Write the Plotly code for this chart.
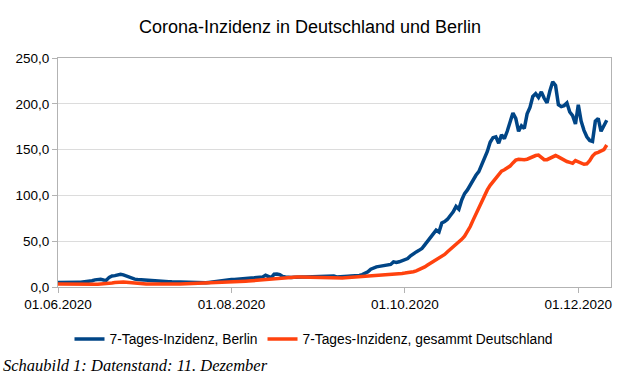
import plotly.graph_objects as go
import pandas as pd

dates = pd.date_range("2020-06-01", "2020-12-11", freq="D")

berlin_jun = [4.8, 5.0, 4.9, 5.0, 5.1, 5.0, 5.2, 5.3, 5.2, 5.4, 5.6, 5.9, 6.8, 7.8, 8.2, 8.4, 7.6, 7.4, 10.5, 12.0,
              12.4, 13.0, 13.9, 13.2, 12.0, 10.5, 9.2, 8.6, 8.3, 8.0]
berlin_jul = [7.7, 7.3, 7.0, 6.7, 7.2, 7.0, 6.6, 6.2, 6.0, 5.8, 5.6, 5.5, 5.2, 5.0, 4.9, 4.7, 4.5, 4.4, 4.2, 4.1,
              4.0, 4.2, 4.6, 5.0, 5.5, 5.9, 6.3, 6.8, 7.3, 7.6, 8.0]
berlin_aug = [8.2, 8.3, 8.4, 8.8, 9.0, 9.3, 9.5, 9.8, 10.0, 10.3, 10.6, 11.0, 12.8, 11.5, 10.3, 13.9, 14.2, 13.5, 11.5, 11.0,
              10.5, 10.3, 10.6, 11.0, 11.2, 10.9, 11.0, 11.1, 11.0, 10.8, 11.0]
berlin_sep = [11.2, 11.0, 11.3, 11.6, 12.2, 12.0, 11.0, 11.4, 11.6, 11.8, 11.7, 11.9, 12.1, 12.0, 12.6, 13.5, 14.6, 16.5, 19.4, 20.8,
              22.0, 22.5, 23.0, 23.5, 24.2, 24.6, 27.4, 26.7, 27.5, 29.0]
berlin_oct = [30.2, 31.0, 34.0, 36.5, 38.3, 40.0, 42.0, 46.0, 50.0, 53.0, 57.0, 62.0, 60.0, 70.0, 71.5, 74.0, 78.0, 82.0, 88.0, 85.0,
              95.0, 102.0, 106.0, 112.0, 117.0, 122.0, 126.0, 133.0, 142.0, 148.0, 158.0]
berlin_nov = [163, 164, 157, 166, 162, 170, 180, 190, 184, 170, 176, 173, 189, 196, 208, 211, 207, 213, 206, 201,
              214, 224, 220, 199, 197, 198, 201, 191, 187, 178]
berlin_dec = [199, 181, 171, 164, 160, 159, 181, 184, 170, 177, 182]

de_jun = [3.4, 3.3, 3.2, 3.1, 3.1, 3.0, 3.0, 2.9, 2.9, 2.8, 2.8, 2.9, 2.9, 3.0, 3.1, 3.2, 3.4, 3.6, 4.0, 4.4,
          4.9, 5.3, 5.6, 5.5, 5.2, 4.8, 4.4, 4.0, 3.7, 3.5]
de_jul = [3.4, 3.3, 3.3, 3.2, 3.2, 3.2, 3.1, 3.1, 3.1, 3.1, 3.1, 3.2, 3.2, 3.3, 3.4, 3.4, 3.5, 3.5, 3.6, 3.7,
          3.8, 3.9, 4.0, 4.2, 4.3, 4.5, 4.6, 4.8, 4.9, 5.0, 5.2]
de_aug = [5.4, 5.5, 5.7, 5.9, 6.1, 6.3, 6.5, 6.8, 7.0, 7.3, 7.6, 7.8, 8.1, 8.4, 8.7, 9.0, 9.3, 9.6, 9.9, 10.2,
          10.5, 10.8, 11.0, 11.0, 10.9, 10.8, 10.6, 10.4, 10.2, 10.1, 10.0]
de_sep = [9.9, 9.7, 9.6, 9.5, 9.4, 9.4, 9.5, 9.7, 9.9, 10.1, 10.3, 10.5, 10.7, 10.9, 11.1, 11.3, 11.5, 11.7, 12.0, 12.2,
          12.4, 12.6, 12.8, 13.0, 13.3, 13.5, 13.7, 14.0, 14.4, 14.8]
de_oct = [15.2, 15.5, 15.9, 16.7, 17.6, 18.8, 20.3, 22.0, 24.0, 26.0, 27.6, 29.2, 31.0, 33.0, 35.5, 38.5, 41.0, 43.5, 46.0, 49.0,
          52.0, 55.5, 60.0, 66.0, 73.0, 80.0, 87.0, 94.0, 100.0, 106.0, 111.0]
de_nov = [115, 119, 124, 126.5, 128, 129.5, 132, 135.5, 138.5, 139.5, 139, 139, 139.5, 141, 142, 143.5, 144, 141, 139, 139,
          140.5, 142, 143.5, 142, 140, 138.5, 137, 136, 135, 138]
de_dec = [137, 135, 134, 134.5, 138, 143, 146, 147, 148.5, 150, 155]

berlin = berlin_jun + berlin_jul + berlin_aug + berlin_sep + berlin_oct + berlin_nov + berlin_dec
deutschland = de_jun + de_jul + de_aug + de_sep + de_oct + de_nov + de_dec

series_names = ["7-Tages-Inzidenz, Berlin", "7-Tages-Inzidenz, gesammt Deutschland"]
tick_dates = ["2020-06-01", "2020-08-01", "2020-10-01", "2020-12-01"]
tick_labels = ["01.06.2020", "01.08.2020", "01.10.2020", "01.12.2020"]
y_ticks = [0, 50, 100, 150, 200, 250]

fig = go.Figure()
fig.add_trace(go.Scatter(x=dates, y=berlin, mode="lines", name=series_names[0],
                         line=dict(color="#004586", width=3.5)))
fig.add_trace(go.Scatter(x=dates, y=deutschland, mode="lines", name=series_names[1],
                         line=dict(color="#ff420e", width=3.5)))

fig.update_layout(
    width=620, height=384,
    autosize=False,
    margin=dict(l=58, r=9, t=58, b=97, autoexpand=False),
    paper_bgcolor="white", plot_bgcolor="white",
    separators=",.",
    font=dict(family="Liberation Sans, Arial, sans-serif", size=13.5, color="#000000"),
    title=dict(text="Corona-Inzidenz in Deutschland und Berlin", x=0.5, xanchor="center",
               y=1 - 26.5 / 384, yanchor="middle", font=dict(size=18, color="#000000")),
    showlegend=True,
    legend=dict(orientation="h", x=(314 - 58) / 553, xanchor="center", y=-0.227, yanchor="middle",
                font=dict(size=13.8), itemwidth=30, bgcolor="rgba(0,0,0,0)"),
    xaxis=dict(type="date", range=["2020-06-01", "2020-12-12 12:00"],
               tickvals=tick_dates, ticktext=tick_labels, tickangle=0,
               showgrid=False, showline=True, linecolor="#b3b3b3", linewidth=1, mirror=True,
               ticks="outside", ticklen=5, tickcolor="#b3b3b3", zeroline=False),
    yaxis=dict(range=[0, 250], tickvals=y_ticks, tickformat=".1f",
               showgrid=True, gridcolor="#dcdcdc", gridwidth=1,
               showline=True, linecolor="#b3b3b3", linewidth=1, mirror=True,
               ticks="outside", ticklen=5, tickcolor="#b3b3b3", zeroline=False),
    annotations=[dict(text="<i>Schaubild 1: Datenstand: 11. Dezember</i>", xref="paper", yref="paper",
                      x=-57 / 553, xanchor="left", y=(287 - 365) / 229, yanchor="middle", showarrow=False,
                      font=dict(family="Liberation Serif, Times New Roman, serif", size=16.5, color="#000000"))],
)

fig.write_html("out.html", config={"displayModeBar": False},
               post_script="document.body.style.margin='0';document.body.style.overflow='hidden';")
